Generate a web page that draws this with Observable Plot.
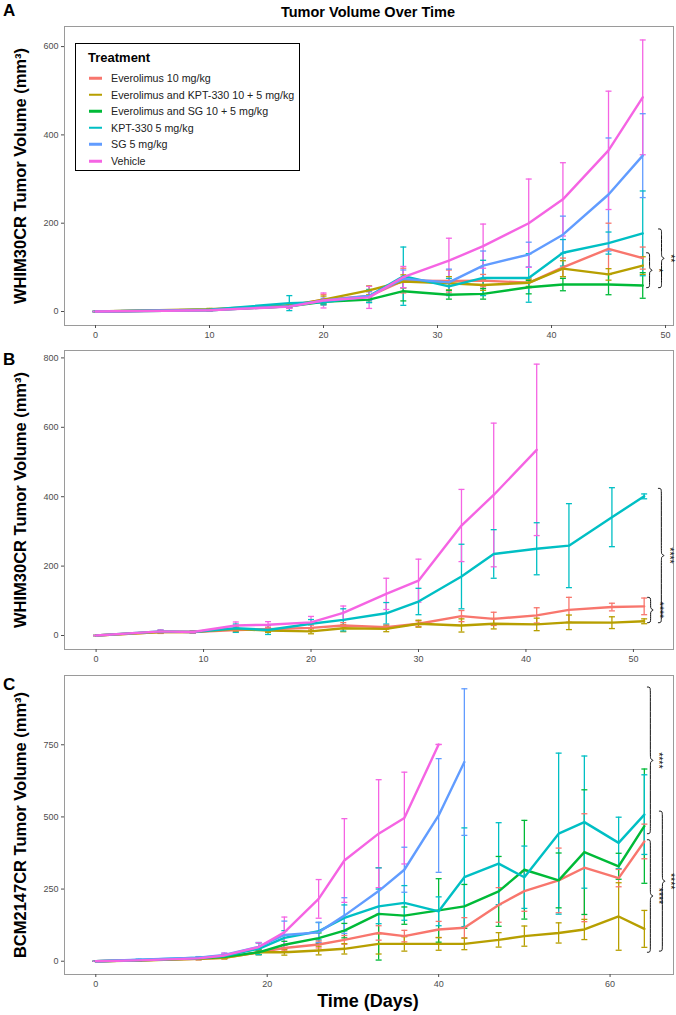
<!DOCTYPE html>
<html>
<head>
<meta charset="utf-8">
<script src="https://cdn.jsdelivr.net/npm/d3@7"></script>
<script src="https://cdn.jsdelivr.net/npm/@observablehq/plot@0.6"></script>
<style>
  body { margin: 0; background: #fff; font-family: "Liberation Sans", Arial, sans-serif; }
  #fig { position: relative; width: 676px; height: 1015px; overflow: hidden; background: #fff; }
  .abs { position: absolute; white-space: nowrap; }
  .letter { font-weight: bold; font-size: 17px; color: #000; line-height: 1; }
  .title { font-weight: bold; font-size: 14.5px; color: #000; line-height: 1; transform: translateX(-50%); }
  .xlab { font-weight: bold; font-size: 18px; color: #000; line-height: 1; transform: translateX(-50%); }
  .legend { box-sizing: border-box; border: 1.5px solid #000; background: #fff; }
  .legend .lt { position: absolute; font-weight: bold; font-size: 13px; line-height: 1; transform: translateY(-50%); }
  .legend .sw { position: absolute; height: 2.5px; width: 13px; transform: translateY(-50%); }
  .legend .lx { position: absolute; font-size: 10.7px; color: #222; line-height: 1; transform: translateY(-50%); white-space: nowrap; }
</style>
</head>
<body>
<div id="fig"></div>
<script>
// Treatments and their colours
const treatments = [
  "Everolimus 10 mg/kg",
  "Everolimus and KPT-330 10 + 5 mg/kg",
  "Everolimus and SG 10 + 5 mg/kg",
  "KPT-330 5 mg/kg",
  "SG 5 mg/kg",
  "Vehicle"
];
const colors = ["#F8766D", "#B79F00", "#00BA38", "#00BFC4", "#619CFF", "#F564E3"];

// ---- Panel A: WHIM30CR (first cohort) ----
const daysA = [0, 10, 17, 20, 24, 27, 31, 34, 38, 41, 45, 48];
const everoA    = [0, 4, 12, 27, 35, 70, 69, 70, 65, 100, 142, 121];
const everoA_se = [0, 2, 5, 12, 10, 28, 25, 14, 11, 21, 58, 25];
const eveKptA    = [0, 5, 14, 27, 48, 68, 64, 60, 65, 97, 84, 104];
const eveKptA_se = [0, 2, 4, 8, 10, 15, 15, 12, 8, 18, 13, 20];
const eveSgA    = [0, 3, 12, 22, 27, 46, 38, 40, 55, 61, 61, 59];
const eveSgA_se = [0, 1, 3, 5, 6, 22, 10, 12, 15, 14, 23, 29];
const kptA    = [0, 4, 19, 21, 35, 80, 57, 76, 76, 133, 155, 177];
const kptA_se = [0, 2, 17, 6, 15, 66, 18, 40, 55, 30, 25, 96];
const sgA    = [0, 3, 12, 25, 35, 74, 66, 104, 129, 174, 265, 353];
const sgA_se = [0, 1, 4, 5, 10, 20, 30, 33, 28, 42, 128, 95];
const vehA    = [0, 3, 11, 25, 32, 78, 115, 148, 200, 254, 365, 485];
const vehA_se = [0, 2, 4, 17, 25, 24, 51, 50, 100, 83, 134, 130];
const bracketsA = [
  { x: 48.6, y0: 54, y1: 133, label: "*" },
  { x: 49.65, y0: 54, y1: 187, label: "**" }
];

// ---- Panel B: WHIM30CR (second cohort) ----
const daysB = [0, 6, 9, 13, 16, 20, 23, 27, 30, 34, 37, 41, 44, 48, 51];
const everoB    = [0, 10, 10, 16, 18, 22, 29, 24, 34, 56, 48, 58, 74, 82, 84];
const everoB_se = [0, 4, 3, 6, 6, 8, 8, 6, 8, 16, 19, 22, 36, 11, 24];
const eveKptB    = [0, 10, 10, 19, 14, 12, 21, 19, 34, 29, 34, 32, 38, 37, 41];
const eveKptB_se = [0, 3, 3, 8, 5, 7, 10, 8, 10, 19, 15, 18, 21, 17, 7];
const kptB    = [0, 12, 10, 21, 16, 34, 45, 64, 98, 170, 235, 250, 259, 341, 401];
const kptB_se = [0, 4, 3, 12, 13, 12, 32, 31, 38, 93, 70, 75, 121, 85, 7];
const vehB    = [0, 12, 10, 29, 31, 38, 65, 120, 158, 317, 405, 535];
const vehB_se = [0, 4, 3, 10, 9, 17, 20, 45, 62, 104, 207, 247];
const bracketsB = [
  { x: 51.6, y0: 37, y1: 110, label: "****" },
  { x: 52.6, y0: 37, y1: 424, label: "****" }
];

// ---- Panel C: BCM2147CR ----
const daysC = [0, 5, 12, 15, 19, 22, 26, 29, 33, 36, 40, 43, 47, 50, 54, 57, 61, 64];
const everoC    = [0, 3, 8, 12, 31, 46, 58, 74, 98, 87, 110, 116, 195, 243, 280, 324, 288, 415];
const everoC_se = [0, 2, 3, 4, 8, 10, 12, 15, 25, 20, 28, 35, 60, 70, 112, 187, 30, 60];
const eveKptC    = [0, 2, 8, 12, 31, 31, 37, 43, 60, 60, 60, 60, 74, 87, 98, 110, 155, 112];
const eveKptC_se = [0, 1, 3, 4, 8, 10, 15, 18, 35, 25, 22, 20, 25, 35, 35, 35, 117, 64];
const eveSgC    = [0, 3, 10, 15, 31, 57, 80, 106, 164, 158, 176, 190, 242, 317, 280, 378, 329, 468];
const eveSgC_se = [0, 2, 3, 5, 8, 12, 18, 25, 160, 30, 110, 76, 121, 171, 95, 216, 45, 198];
const kptC    = [0, 4, 12, 18, 43, 81, 104, 150, 190, 202, 173, 291, 338, 291, 442, 482, 410, 508];
const kptC_se = [0, 2, 3, 6, 20, 25, 30, 45, 60, 60, 50, 171, 142, 108, 279, 229, 89, 138];
const sgC    = [0, 5, 12, 22, 50, 91, 100, 158, 243, 317, 505, 690];
const sgC_se = [0, 2, 4, 6, 15, 48, 35, 62, 80, 78, 197, 254];
const vehC    = [0, 3, 10, 20, 49, 100, 216, 349, 442, 496, 751];
const vehC_se = [0, 2, 4, 8, 15, 53, 67, 145, 187, 159, 0];
const bracketsC = [
  { x: 64.7, y0: 442, y1: 950, label: "****" },
  { x: 64.7, y0: 31, y1: 421, label: "****" },
  { x: 66.1, y0: 35, y1: 520, label: "****" }
];

// Axis ticks
const xTicksAB = [0, 10, 20, 30, 40, 50];
const xTicksC = [0, 20, 40, 60];
const yTicksA = [0, 200, 400, 600];
const yTicksB = [0, 200, 400, 600, 800];
const yTicksC = [0, 250, 500, 750];

// Text
const mainTitle = "Tumor Volume Over Time";
const yLabelA = "WHIM30CR Tumor Volume (mm\u00B3)";
const yLabelB = "WHIM30CR Tumor Volume (mm\u00B3)";
const yLabelC = "BCM2147CR Tumor Volume (mm\u00B3)";
const xLabel = "Time (Days)";
const legendTitle = "Treatment";

// Long-format rows: one per treatment and day, with mean ± SE
function makeRows(list) {
  const out = [];
  for (const [ti, days, mean, se] of list) {
    mean.forEach((v, i) => out.push({ treatment: treatments[ti], day: days[i], v, lo: v - se[i], hi: v + se[i] }));
  }
  return out;
}
const rowsA = makeRows([[0, daysA, everoA, everoA_se], [1, daysA, eveKptA, eveKptA_se], [2, daysA, eveSgA, eveSgA_se],
                        [3, daysA, kptA, kptA_se], [4, daysA, sgA, sgA_se], [5, daysA, vehA, vehA_se]]);
const rowsB = makeRows([[0, daysB, everoB, everoB_se], [1, daysB, eveKptB, eveKptB_se],
                        [3, daysB, kptB, kptB_se], [5, daysB, vehB, vehB_se]]);
const rowsC = makeRows([[0, daysC, everoC, everoC_se], [1, daysC, eveKptC, eveKptC_se], [2, daysC, eveSgC, eveSgC_se],
                        [3, daysC, kptC, kptC_se], [4, daysC, sgC, sgC_se], [5, daysC, vehC, vehC_se]]);

// Horizontal cap used for error-bar ends
const capSymbol = {
  draw(context, size) {
    const r = Math.sqrt(size / Math.PI);
    context.moveTo(-r, 0);
    context.lineTo(r, 0);
  }
};

// Curly brace "}" through data space; offsets are given in pixels and converted with kx/ky
function bracePoints(b, kx, ky, id) {
  const hook = 3, tip = 4;
  const X = dx => b.x + dx * kx;
  const Y = (v, dyDown) => v - dyDown * ky;
  const m = (b.y0 + b.y1) / 2;
  const pts = [
    [X(-hook), b.y1], [X(0), b.y1], [X(0), Y(b.y1, 4)],
    [X(0), Y(m, -4)], [X(0), Y(m, -1)], [X(tip), m], [X(0), Y(m, 1)], [X(0), Y(m, 4)],
    [X(0), Y(b.y0, -4)], [X(0), b.y0], [X(-hook), b.y0]
  ];
  return pts.map(([x, y]) => ({ id, x, y }));
}

const W = 676, ML = 64, MR = 3;

function panel({ rows, brackets, xDomain, yDomain, xTicks, yTicks, yLabel, marginTop, marginBottom, height }) {
  const innerW = W - ML - MR, innerH = height - marginTop - marginBottom;
  const kx = (xDomain[1] - xDomain[0]) / innerW;
  const ky = (yDomain[1] - yDomain[0]) / innerH;
  const braceRows = brackets.flatMap((b, k) => bracePoints(b, kx, ky, k));
  return Plot.plot({
    width: W, height, marginLeft: ML, marginRight: MR, marginTop, marginBottom,
    style: { fontFamily: "Liberation Sans, Arial, sans-serif", background: "transparent", overflow: "visible" },
    x: { domain: xDomain },
    y: { domain: yDomain },
    color: { domain: treatments, range: colors },
    marks: [
      Plot.frame({ stroke: "#9a9a9a", strokeWidth: 1 }),
      Plot.axisX({ ticks: xTicks, tickSize: 3, tickPadding: 3, fontSize: 9, color: "#4d4d4d", label: null }),
      Plot.axisY({ ticks: yTicks, tickSize: 3, tickPadding: 3, fontSize: 9, color: "#4d4d4d", label: null }),
      Plot.ruleX(rows, { x: "day", y1: "lo", y2: "hi", stroke: "treatment", strokeWidth: 1.3 }),
      Plot.dot(rows, { x: "day", y: "lo", symbol: capSymbol, r: 3, stroke: "treatment", fill: "none", strokeWidth: 1.3 }),
      Plot.dot(rows, { x: "day", y: "hi", symbol: capSymbol, r: 3, stroke: "treatment", fill: "none", strokeWidth: 1.3 }),
      Plot.line(rows, { x: "day", y: "v", z: "treatment", stroke: "treatment", strokeWidth: 2.4 }),
      Plot.line(braceRows, { x: "x", y: "y", z: "id", curve: "basis", stroke: "#111", strokeWidth: 1 }),
      Plot.text(brackets, { x: "x", y: d => (d.y0 + d.y1) / 2, text: "label", rotate: 90, dx: 8.5, fontSize: 10.5, fill: "#111" }),
      Plot.text([yLabel], { text: d => d, frameAnchor: "left", textAnchor: "middle", dx: -44, rotate: -90,
        fontSize: 16.5, fontWeight: "bold", fill: "#000" })
    ]
  });
}

const fig = document.getElementById("fig");
function place(node, top) {
  node.style.position = "absolute";
  node.style.left = "0px";
  node.style.top = top + "px";
  fig.appendChild(node);
}

place(panel({ rows: rowsA, brackets: bracketsA, xDomain: [-2.72, 50.7], yDomain: [-31.7, 645.5],
  xTicks: xTicksAB, yTicks: yTicksA, yLabel: yLabelA, marginTop: 26, marginBottom: 20, height: 345 }), 0);
place(panel({ rows: rowsB, brackets: bracketsB, xDomain: [-2.94, 53.73], yDomain: [-40.3, 821.3],
  xTicks: xTicksAB, yTicks: yTicksB, yLabel: yLabelB, marginTop: 5, marginBottom: 21, height: 325 }), 345);
place(panel({ rows: rowsC, brackets: bracketsC, xDomain: [-3.65, 67.4], yDomain: [-46, 990],
  xTicks: xTicksC, yTicks: yTicksC, yLabel: yLabelC, marginTop: 5, marginBottom: 41, height: 345 }), 670);

// Overlaid text: title, panel letters, shared x label
function addText(cls, text, left, top) {
  const d = document.createElement("div");
  d.className = "abs " + cls;
  d.textContent = text;
  d.style.left = left + "px";
  d.style.top = top + "px";
  fig.appendChild(d);
  return d;
}
addText("title", mainTitle, 368, 5);
addText("letter", "A", 3, 2);
addText("letter", "B", 3, 351);
addText("letter", "C", 3, 676);
addText("xlab", xLabel, 368, 992);

// Legend inside panel A
const legend = document.createElement("div");
legend.className = "abs legend";
Object.assign(legend.style, { left: "75px", top: "43px", width: "225px", height: "128px" });
const lt = document.createElement("div");
lt.className = "lt"; lt.textContent = legendTitle;
Object.assign(lt.style, { left: "12px", top: "13px" });
legend.appendChild(lt);
treatments.forEach((t, i) => {
  const cy = 34 + i * 16.6;
  const sw = document.createElement("div");
  sw.className = "sw";
  Object.assign(sw.style, { left: "13px", top: cy + "px", background: colors[i] });
  const lx = document.createElement("div");
  lx.className = "lx"; lx.textContent = t;
  Object.assign(lx.style, { left: "35px", top: cy + "px" });
  legend.appendChild(sw); legend.appendChild(lx);
});
fig.appendChild(legend);
</script>
</body>
</html>
